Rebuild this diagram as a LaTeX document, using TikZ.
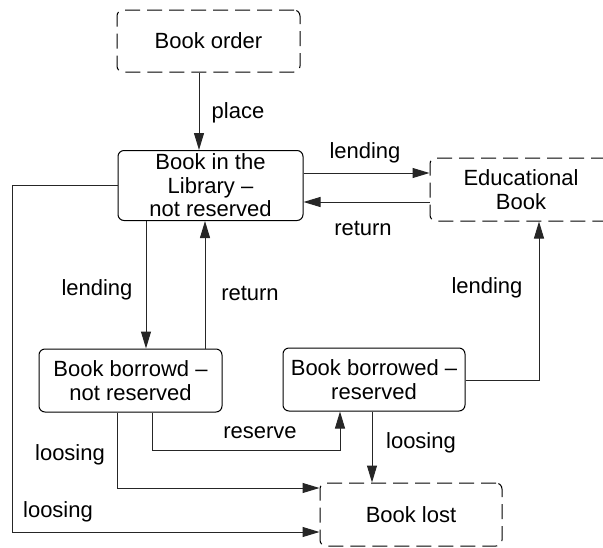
\documentclass[tikz,border=0pt]{standalone}
\usepackage{fontspec}
\setmainfont{Liberation Sans}
\usetikzlibrary{arrows.meta}
\begin{document}
\begin{tikzpicture}[x=1pt,y=-1pt,
  every node/.style={font=\fontsize{22}{23.5}\selectfont},
  state/.style={draw=black, line width=1pt, rounded corners=6pt, align=center, inner sep=0pt},
  dstate/.style={state, dash pattern=on 15pt off 7pt},
  arr/.style={draw=black!85, line width=1pt, -{Triangle[length=17pt,width=10pt]}},
  lbl/.style={inner sep=0pt}]
\useasboundingbox (0,0) rectangle (603,547);
% states
\node[dstate, minimum width=183pt, minimum height=62pt] (order) at (208.5,41) {Book order};
\node[state, minimum width=185pt, minimum height=70pt] (lib) at (210.5,185.5) {Book in the\\Library --\\not reserved};
\node[dstate, minimum width=182pt, minimum height=63pt] (edu) at (521,189.5) {Educational\\Book};
\node[state, minimum width=183pt, minimum height=63pt] (bnr) at (130.5,380.5) {Book borrowd --\\not reserved};
\node[state, minimum width=182pt, minimum height=63pt] (br) at (374,379.5) {Book borrowed --\\reserved};
\node[dstate, minimum width=182pt, minimum height=63pt] (lost) at (411,514.5) {Book lost};
% helper coordinates
\coordinate (p1) at (199,0);
\coordinate (h1) at (0,173);
\coordinate (h2) at (0,202);
\coordinate (v1) at (146,0);
\coordinate (v2) at (205,0);
\coordinate (lx) at (12,532);
\coordinate (l2) at (117,488);
\coordinate (r1) at (152,450);
\coordinate (r2) at (340,450);
\coordinate (l3) at (372,0);
\coordinate (e1) at (539,380);
% connectors
\draw[arr] (order.south -| p1) -- (lib.north -| p1);
\draw[arr] (lib.east |- h1) -- (edu.west |- h1);
\draw[arr] (edu.west |- h2) -- (lib.east |- h2);
\draw[arr] (lib.south -| v1) -- (bnr.north -| v1);
\draw[arr] (bnr.north -| v2) -- (lib.south -| v2);
\draw[arr] (lib.west) -| (lx) -- (lost.west |- lx);
\draw[arr] (bnr.south -| l2) -- (l2) -- (lost.west |- l2);
\draw[arr] (bnr.south -| r1) -- (r1) -- (r2) -- (br.south -| r2);
\draw[arr] (br.south -| l3) -- (lost.north -| l3);
\draw[arr] (br.east |- e1) -- (e1) -- (edu.south -| e1);
% labels
\node[lbl] (t1) at (238,113) {place};
\node[lbl] (t2) at (365,153) {lending};
\node[lbl] (t3) at (363,228) {return};
\node[lbl] (t4) at (97,290) {lending};
\node[lbl] (t5) at (250,293) {return};
\node[lbl] (t6) at (487,288) {lending};
\node[lbl] (t7) at (260,433) {reserve};
\node[lbl] (t8) at (421,443) {loosing};
\node[lbl] (t9) at (70,455) {loosing};
\node[lbl] (t10) at (58,512) {loosing};
\end{tikzpicture}
\end{document}
